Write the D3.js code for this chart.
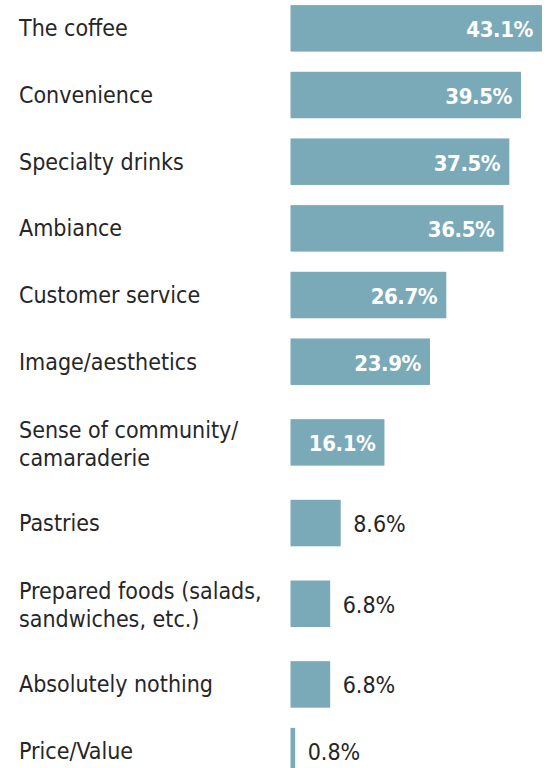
<!DOCTYPE html>
<html>
<head>
<meta charset="utf-8">
<script src="https://cdn.jsdelivr.net/npm/d3@7"></script>
<style>
  html, body { margin: 0; padding: 0; background: #ffffff; }
  svg { display: block; }
  text { font-family: "DejaVu Sans Condensed", "DejaVu Sans", sans-serif; }
</style>
</head>
<body>
<div id="chart"></div>
<script>
// Reasons people give for choosing a coffee shop (% of respondents)
const categories = [
  "The coffee",
  "Convenience",
  "Specialty drinks",
  "Ambiance",
  "Customer service",
  "Image/aesthetics",
  "Sense of community/\ncamaraderie",
  "Pastries",
  "Prepared foods (salads,\nsandwiches, etc.)",
  "Absolutely nothing",
  "Price/Value"
];
const values = [43.1, 39.5, 37.5, 36.5, 26.7, 23.9, 16.1, 8.6, 6.8, 6.8, 0.8];

const width = 550, height = 768;
const barColor = "#7aaab8";
const textColor = "#262626";

const rows = categories.map((c, i) => ({
  lines: c.split("\n"),
  value: values[i]
}));

// Each row is sized by how many lines its label takes
const unitsFor = r => r.lines.length === 1 ? 2.5 : 3.55;
let acc = 0;
rows.forEach(r => {
  r.center = acc + unitsFor(r) / 2;
  acc += unitsFor(r);
});

const y = d3.scaleLinear().domain([0, 1]).range([-5, -5 + 26.67]);
const x = d3.scaleLinear().domain([0, d3.max(values)]).range([290.5, 542]);
const barH = 46.5;
const fmt = v => d3.format(".1f")(v) + "%";

const svg = d3.select("#chart").append("svg")
  .attr("width", width)
  .attr("height", height);

const g = svg.selectAll("g.row").data(rows).join("g").attr("class", "row");

g.append("rect")
  .attr("x", x(0))
  .attr("y", d => y(d.center) - barH / 2)
  .attr("width", d => x(d.value) - x(0))
  .attr("height", barH)
  .attr("fill", barColor);

// Category labels (one or two lines)
g.append("text")
  .attr("x", 19)
  .attr("fill", textColor)
  .attr("font-size", 23)
  .each(function(d) {
    const t = d3.select(this);
    const lh = 28.5;
    const first = y(d.center) + 8 - (d.lines.length - 1) * lh / 2 + (d.lines.length - 1) * 1.5;
    d.lines.forEach((ln, k) => {
      t.append("tspan").attr("x", 19).attr("y", first + k * lh).text(ln);
    });
  });

// Value labels: inside the bar when it is long enough, otherwise just past its end
g.append("text")
  .attr("y", d => y(d.center) + 9)
  .attr("x", d => d.value > 10 ? x(d.value) - 9 : x(d.value) + 12.5)
  .attr("text-anchor", d => d.value > 10 ? "end" : "start")
  .attr("fill", d => d.value > 10 ? "#ffffff" : textColor)
  .attr("font-weight", d => d.value > 10 ? "bold" : "normal")
  .attr("font-size", d => d.value > 10 ? 22 : 23)
  .attr("letter-spacing", d => d.value > 10 ? "-0.4" : "0")
  .text(d => fmt(d.value));
</script>
</body>
</html>
